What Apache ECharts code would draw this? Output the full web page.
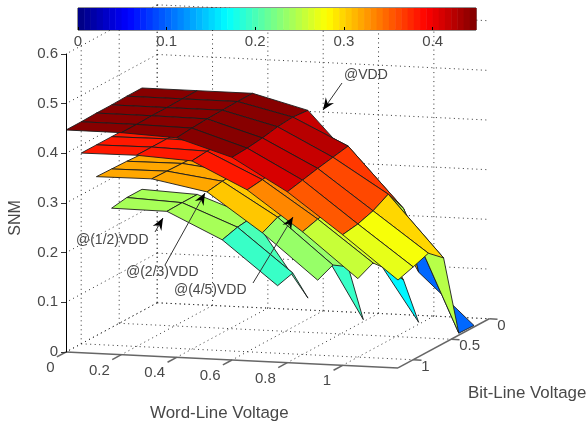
<!DOCTYPE html>
<html><head><meta charset="utf-8">
<style>html,body{margin:0;padding:0;background:#fff}#c{width:588px;height:427px}</style>
<script src="https://cdn.jsdelivr.net/npm/echarts@6/dist/echarts.min.js"></script>
</head><body><div id="c"></div>
<script>
// ---- data: SNM per word-line step (rows) and bit-line step (columns, from 0.2 V upward)
const wordLineSteps = [0, 0.2, 0.4, 0.6, 0.8, 1, 1.2];
const bitLineSteps  = [0.2, 0.4, 0.6, 0.8, 1, 1.2];
const snmVdd = [
  [.449,.449,.448,.448,.447,.447],
  [.449,.449,.448,.448,.447,.447],
  [.449,.449,.448,.447,.445,.442],
  [.420,.423,.420,.414,.410,.408],
  [.302,.370,.364,.358,.351,.344],
  [.105,.250,.295,.278,.268,.263],
  [.003,.004,.172,.198,.187,.177]
];
const snmFourFifths = [
  [.384,.384,.384,.384,.384],
  [.385,.385,.385,.385,.385],
  [.383,.383,.383,.382,.379],
  [.338,.338,.335,.330,.326],
  [.168,.270,.262,.256,.247],
  [.004,.106,.143,.173,.158]
];
const snmTwoThirds = [
  [.316,.318,.319,.320],
  [.318,.319,.320,.321],
  [.306,.306,.305,.300],
  [.190,.237,.238,.223],
  [.004,.127,.147,.133]
];
const snmOneHalf = [
  [.245,.245,.240],
  [.240,.240,.239],
  [.200,.196,.187],
  [.042,.109,.100]
];
const wordTicks = [0, 0.2, 0.4, 0.6, 0.8, 1];
const bitTicks  = [0, 0.5, 1];
const snmTicks  = [0, 0.1, 0.2, 0.3, 0.4, 0.5, 0.6];
const colorTicks = [0, 0.1, 0.2, 0.3, 0.4];
const colorMax = 0.449;

// ---- view transform of the box (oblique projection onto the x / z axes)
const X_MAX = 1.2, Y_MAX = 1.2, Z_MAX = 0.6;
const SKEW_X_PER_Y = 76 / 276.67;
const DROP_PER_X = 13.3 / 496.67, DROP_PER_Y = 41 / 496.67;
function flat(x, y, z) {
  return [x + (Y_MAX - y) * SKEW_X_PER_Y,
          z - x * DROP_PER_X + (Y_MAX - y) * DROP_PER_Y];
}
const depth = (x, y, z) => 82 * x + 252 * y + 81 * z;

function jet(v) {
  const idx = Math.min(63, Math.max(0, Math.floor(v / colorMax * 64)));
  const t = (idx + 0.5) / 64;
  const c = a => Math.round(255 * Math.max(0, Math.min(1, 1.5 - Math.abs(4 * t - a))));
  return `rgb(${c(3)},${c(2)},${c(1)})`;
}

// ---- quads, painter-sorted back to front
const surfaces = [snmVdd, snmFourFifths, snmTwoThirds, snmOneHalf];
const quads = [];
surfaces.forEach(s => {
  for (let i = 0; i + 1 < s.length; i++) for (let j = 0; j + 1 < s[i].length; j++) {
    const c = [[i,j],[i+1,j],[i+1,j+1],[i,j+1]].map(([a,b]) => [wordLineSteps[a], bitLineSteps[b], s[a][b]]);
    const d = c.reduce((m, p) => m + depth(p[0], p[1], p[2]), 0) / 4;
    quads.push({ d, value: [0, 0], corners: c, colorValue: s[i][j] });
  }
});
quads.sort((a, b) => a.d - b.d);

// ---- dotted box grid
const gridSegs = [];
wordTicks.forEach(x => {
  gridSegs.push([[x,0,0],[x,0,Z_MAX]], [[x,0,0],[x,Y_MAX,0]]);
});
bitTicks.forEach(y => {
  gridSegs.push([[0,y,0],[0,y,Z_MAX]], [[0,y,0],[X_MAX,y,0]]);
});
snmTicks.forEach(z => {
  gridSegs.push([[0,0,z],[X_MAX,0,z]], [[0,0,z],[0,Y_MAX,z]]);
});

const axisSegs = [
  [[0,Y_MAX,0],[X_MAX,Y_MAX,0]],
  [[X_MAX,Y_MAX,0],[X_MAX,0,0]]
];
wordTicks.forEach(x => axisSegs.push([[x,Y_MAX,0],[x,Y_MAX+0.12,0]]));
bitTicks.forEach(y => axisSegs.push([[X_MAX,y,0],[X_MAX+0.03,y,0]]));

const LABEL = '#484848', FONT = 'Liberation Sans';
const arrowHead = (x1,y1,x2,y2) => {
  const a = Math.atan2(y2-y1,x2-x1), L = 12, W = 5, N = 8;
  const ux = Math.cos(a), uy = Math.sin(a), px = -uy, py = ux;
  return { type:'polygon', z:50, silent:true, shape:{points:[
    [x2,y2],[x2-ux*L+px*W,y2-uy*L+py*W],[x2-ux*N,y2-uy*N],[x2-ux*L-px*W,y2-uy*L-py*W]]},
    style:{fill:'#000'} };
};
const arrow = (x1,y1,x2,y2) => [
  { type:'line', z:50, silent:true, shape:{x1,y1,x2,y2}, style:{stroke:'#333',lineWidth:1} },
  arrowHead(x1,y1,x2,y2)
];
const note = (text,x,y,size,extra) => Object.assign(
  { type:'text', z:50, silent:true, x, y, style:{text, fill:LABEL, font:`${size}px ${FONT}`, textVerticalAlign:'middle'} }, extra||{});

const option = {
  animation:false,
  backgroundColor:'#fff',
  grid:[
    {left:66, top:54, width:332, height:298, show:false},
    {left:78, top:8, width:398, height:22, show:true, borderColor:'#222', borderWidth:1, backgroundColor:'#fff', z:20}
  ],
  xAxis:[
    {gridIndex:0, type:'value', min:0, max:X_MAX, show:false},
    {gridIndex:1, type:'value', min:0, max:colorMax, interval:0.1, z:30,
     axisLine:{show:false}, splitLine:{show:false},
     axisTick:{inside:true,length:3,lineStyle:{color:'#000'}},
     axisLabel:{margin:4,showMaxLabel:false,fontFamily:FONT,fontSize:15,color:LABEL,formatter:v=>String(v)}}
  ],
  yAxis:[
    {gridIndex:0, type:'value', min:0, max:Z_MAX, interval:0.1, z:15,
     axisLine:{show:true,lineStyle:{color:'#000',width:1}}, splitLine:{show:false},
     axisTick:{show:true,length:5,lineStyle:{color:'#333'}},
     axisLabel:{margin:8,fontFamily:FONT,fontSize:15,color:LABEL,formatter:v=>String(v)}},
    {gridIndex:1, type:'value', min:0, max:1, show:false}
  ],
  series:[
    { type:'custom', name:'grid', xAxisIndex:0, yAxisIndex:0, z:2, clip:false, silent:true,
      data:gridSegs.map((s,i)=>({value:[i,0]})),
      renderItem(p,api){
        const s = gridSegs[p.dataIndex];
        const a = api.coord(flat(...s[0])), b = api.coord(flat(...s[1]));
        return {type:'line',shape:{x1:a[0],y1:a[1],x2:b[0],y2:b[1]},
          style:{stroke:'#333',lineWidth:1,lineDash:[1,3.5]}};
      }},
    { type:'custom', name:'axes', xAxisIndex:0, yAxisIndex:0, z:3, clip:false, silent:true,
      data:axisSegs.map((s,i)=>({value:[i,0]})),
      renderItem(p,api){
        const s = axisSegs[p.dataIndex];
        const a = api.coord(flat(...s[0])), b = api.coord(flat(...s[1]));
        return {type:'line',shape:{x1:a[0],y1:a[1],x2:b[0],y2:b[1]},
          style:{stroke:'#666',lineWidth:1.5}};
      }},
    { type:'custom', name:'word ticks', xAxisIndex:0, yAxisIndex:0, z:3, clip:false, silent:true,
      data:wordTicks.map(v=>({value:[v,0]})),
      renderItem(p,api){
        const v = wordTicks[p.dataIndex], a = api.coord(flat(v,Y_MAX,0));
        return {type:'text',x:a[0]-11.5,y:a[1]+16,
          style:{text:String(v),fill:LABEL,font:`15px ${FONT}`,textAlign:'right',textVerticalAlign:'middle'}};
      }},
    { type:'custom', name:'bit ticks', xAxisIndex:0, yAxisIndex:0, z:3, clip:false, silent:true,
      data:bitTicks.map(v=>({value:[v,0]})),
      renderItem(p,api){
        const v = bitTicks[p.dataIndex], a = api.coord(flat(X_MAX,v,0));
        return {type:'text',x:a[0]+8,y:a[1]+7,
          style:{text:String(v),fill:LABEL,font:`15px ${FONT}`,textAlign:'left',textVerticalAlign:'middle'}};
      }},
    { type:'custom', name:'SNM surfaces', xAxisIndex:0, yAxisIndex:0, z:5, clip:false, silent:true,
      data:quads.map(q=>({value:q.value})),
      renderItem(p,api){
        const q = quads[p.dataIndex];
        return {type:'polygon',shape:{points:q.corners.map(c=>api.coord(flat(c[0],c[1],c[2])))},
          style:{fill:jet(q.colorValue),stroke:'#1c1c1c',lineWidth:0.9,lineJoin:'round'}};
      }},
    { type:'custom', name:'colorbar', xAxisIndex:1, yAxisIndex:1, z:25, silent:true,
      data:Array.from({length:64},(_,i)=>({value:[i,0]})),
      renderItem(p,api){
        const i = p.dataIndex;
        const a = api.coord([colorMax*i/64,1]), b = api.coord([colorMax*(i+1)/64,0]);
        return {type:'rect',shape:{x:a[0],y:a[1],width:b[0]-a[0]+0.5,height:b[1]-a[1]},
          style:{fill:jet(colorMax*(i+0.5)/64)}};
      }}
  ],
  graphic:[
    note('SNM',16,218,16,{rotation:Math.PI/2,style:{text:'SNM',fill:LABEL,font:`16px ${FONT}`,textAlign:'center',textVerticalAlign:'middle'}}),
    note('Word-Line Voltage',150,413,16.9),
    note('Bit-Line Voltage',468,393,16.9),
    note('@VDD',344,75,14),
    note('@(1/2)VDD',76,240,14),
    note('@(2/3)VDD',126,272,14),
    note('@(4/5)VDD',174,290,14),
    ...arrow(342,83,323,110),
    ...arrow(155,232,163,218),
    ...arrow(165,265,205,193),
    ...arrow(253,283,293,217)
  ]
};
echarts.init(document.getElementById('c'),null,{renderer:'canvas'}).setOption(option);
</script>
</body></html>
